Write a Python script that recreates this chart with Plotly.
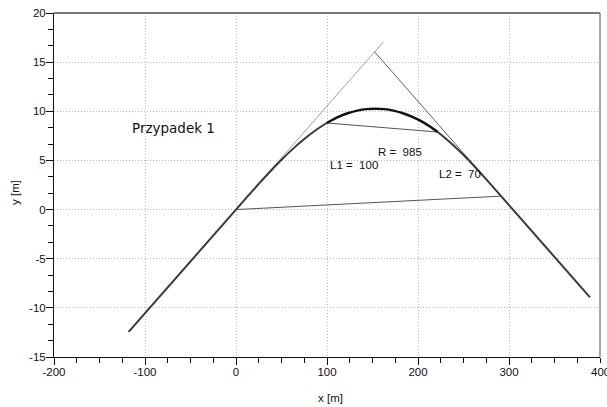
import plotly.graph_objects as go

# ---- data ----
straight_in_x = [-118, 0]
straight_in_y = [-12.45, 0]

trans1_x = [0, 12.43, 24.87, 37.30, 49.75, 62.20, 74.66, 87.14, 99.63]
trans1_y = [0, 1.31, 2.60, 3.85, 5.04, 6.15, 7.16, 8.05, 8.81]

arc_x = [99.63, 113.75, 123.59, 133.44, 143.29, 153.14, 162.99, 172.84, 182.69, 192.53, 202.37, 212.21, 221.62]
arc_y = [8.81, 9.48, 9.83, 10.07, 10.22, 10.27, 10.22, 10.07, 9.83, 9.48, 9.04, 8.50, 7.89]

trans2_x = [221.62, 230.35, 239.07, 247.79, 256.50, 265.21, 273.92, 282.63, 291.34]
trans2_y = [7.89, 7.24, 6.53, 5.76, 4.94, 4.08, 3.19, 2.29, 1.37]

straight_out_x = [291.34, 389]
straight_out_y = [1.37, -8.93]

tangent_left_x = [0, 161.9]
tangent_left_y = [0, 17.05]
tangent_right_x = [152.2, 291.34]
tangent_right_y = [16.06, 1.37]

chord_arc_x = [99.63, 221.62]
chord_arc_y = [8.81, 7.89]
chord_main_x = [0, 291.34]
chord_main_y = [0, 1.37]

labels = ["R =  985", "L1 =  100", "L2 =  70"]
label_x = [153.5, 100.8, 221.2]
label_y = [5.87, 4.49, 3.58]

title_text = "Przypadek 1"

x_ticks = [-200, -100, 0, 100, 200, 300]
x_tick_text = ["-200", "-100", "0", "100", "200", "300"]
x_edge_tick = 400
y_ticks = [-15, -10, -5, 0, 5, 10, 15, 20]
y_tick_text = ["-15", "-10", "-5", "0", "5", "10", "15", "20"]

FONT = "Liberation Sans, Arial, sans-serif"

fig = go.Figure()

def add_line(x, y, color, width, shape="linear"):
    fig.add_trace(go.Scatter(x=x, y=y, mode="lines", showlegend=False, hoverinfo="skip",
                             line=dict(color=color, width=width, shape=shape)))

add_line(tangent_left_x, tangent_left_y, "#a0a0a0", 1)
add_line(tangent_right_x, tangent_right_y, "#606060", 1)
add_line(chord_arc_x, chord_arc_y, "#555555", 1)
add_line(chord_main_x, chord_main_y, "#555555", 1)

add_line(straight_in_x, straight_in_y, "#3a3a3a", 2)
add_line(trans1_x, trans1_y, "#3a3a3a", 2, "spline")
add_line(arc_x, arc_y, "#111111", 2.5, "spline")
add_line(trans2_x, trans2_y, "#3a3a3a", 2, "spline")
add_line(straight_out_x, straight_out_y, "#3a3a3a", 2)

for t, x, y in zip(labels, label_x, label_y):
    fig.add_annotation(x=x, y=y, text=t, showarrow=False, xanchor="left", yanchor="middle",
                       font=dict(family=FONT, size=11.5, color="#111111"))

fig.add_annotation(x=-69, y=8.3, text=title_text, showarrow=False, xanchor="center", yanchor="middle",
                   font=dict(family="DejaVu Sans, Verdana, sans-serif", size=13.5, color="#111111"))

fig.add_annotation(xref="paper", yref="paper", x=0.507, y=-0.1185, text="x [m]", showarrow=False,
                   xanchor="center", yanchor="middle", font=dict(family=FONT, size=11.5, color="#111111"))
fig.add_annotation(xref="paper", yref="paper", x=-0.0714, y=0.477, text="y [m]", showarrow=False,
                   textangle=-90, xanchor="center", yanchor="middle",
                   font=dict(family=FONT, size=11.5, color="#111111"))
# edge tick label (clipped by the window in the reference)
fig.add_annotation(x=x_edge_tick, y=0, yref="paper", yshift=-15, text=str(x_edge_tick), showarrow=False,
                   xanchor="center", yanchor="middle", font=dict(family=FONT, size=11.5, color="#111111"))

# top / right frame
fig.add_shape(type="line", xref="paper", yref="paper", x0=0, x1=1, y0=1, y1=1,
              line=dict(color="#7a7a7a", width=2))
fig.add_shape(type="line", xref="paper", yref="paper", x0=1, x1=1, y0=0, y1=1,
              line=dict(color="#6a6a6a", width=1.2))

grid = dict(showgrid=True, gridcolor="#b8b8b8", griddash="1px,2px", gridwidth=1)
fig.update_xaxes(range=[-200, 400], tickvals=x_ticks, ticktext=x_tick_text, ticks="outside", ticklen=7,
                 tickcolor="#111", showline=True, linecolor="#111", linewidth=1, zeroline=False,
                 tickfont=dict(family=FONT, size=11.5, color="#111"), ticklabelstandoff=-3,
                 minor=dict(dtick=25, tick0=0, ticks="outside", ticklen=5, tickcolor="#111", showgrid=False),
                 **grid)
fig.update_yaxes(range=[-15, 20], tickvals=y_ticks, ticktext=y_tick_text, ticks="outside", ticklen=7,
                 tickcolor="#111", showline=True, linecolor="#111", linewidth=1, zeroline=False,
                 tickfont=dict(family=FONT, size=11.5, color="#111"), ticklabelstandoff=-2,
                 minor=dict(dtick=5/3, tick0=0, ticks="outside", ticklen=5, tickcolor="#111", showgrid=False),
                 **grid)

fig.update_layout(width=607, height=407, margin=dict(l=54, r=7, t=11, b=50),
                  plot_bgcolor="white", paper_bgcolor="white", showlegend=False)

fig.write_html("out.html")
